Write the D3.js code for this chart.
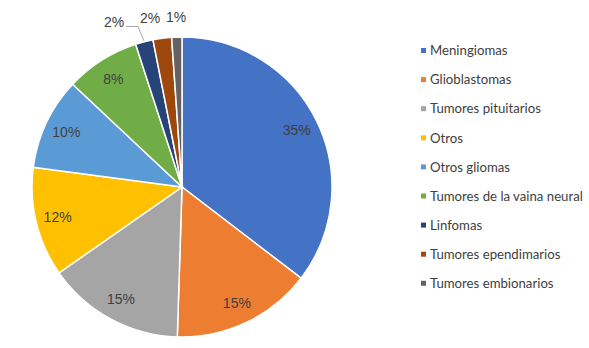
<!DOCTYPE html>
<html>
<head>
<meta charset="utf-8">
<script src="https://cdn.jsdelivr.net/npm/d3@7"></script>
<style>
  body { margin: 0; background: #fff; }
  .pct { font-family: "Liberation Sans", Arial, sans-serif; font-size: 14px; fill: #404040; }
  .legend-text { font-family: Lato, "Open Sans", sans-serif; font-size: 13.2px; fill: #404040; }
</style>
</head>
<body>
<div id="chart"></div>
<script>
const categories = ["Meningiomas", "Glioblastomas", "Tumores pituitarios", "Otros", "Otros gliomas",
  "Tumores de la vaina neural", "Linfomas", "Tumores ependimarios", "Tumores embionarios"];
const values = [35.4, 15.1, 14.8, 11.8, 9.9, 8.0, 1.9, 2.0, 1.1];
const colors = ["#4472C4", "#ED7D31", "#A5A5A5", "#FFC000", "#5B9BD5", "#70AD47", "#264478", "#9E480E", "#636363"];

const WIDTH = 589, HEIGHT = 348;
const CX = 182, CY = 187, R = 150;

const svg = d3.select("#chart")
    .append("svg")
        .attr("width", WIDTH)
        .attr("height", HEIGHT);

const data = categories.map((c, i) => ({ name: c, value: values[i], color: colors[i] }));
const total = d3.sum(values);

const pie = d3.pie().value(d => d.value).sort(null);
const arcs = pie(data);

const arc = d3.arc().innerRadius(0).outerRadius(R);
const labelArc = d3.arc().innerRadius(128).outerRadius(128);
const outArc = d3.arc().innerRadius(170).outerRadius(170);
const edgeArc = d3.arc().innerRadius(R + 1).outerRadius(R + 1);

const g = svg.append("g").attr("transform", `translate(${CX}, ${CY})`);

// slices
g.selectAll("path.slice")
    .data(arcs)
    .enter()
    .append("path")
        .attr("class", "slice")
        .attr("d", arc)
        .attr("fill", d => d.data.color)
        .attr("stroke", "#fff")
        .attr("stroke-width", 1.5);

// labels: big slices inside, small ones outside on top
const pct = d => Math.round(d.data.value / total * 100) + "%";
const inside = arcs.filter(d => d.data.value / total >= 0.05);
const outside = arcs.filter(d => d.data.value / total < 0.05);

g.selectAll("text.in")
    .data(inside)
    .enter()
    .append("text")
        .attr("class", "pct")
        .attr("transform", d => `translate(${labelArc.centroid(d)})`)
        .attr("text-anchor", "middle")
        .attr("dy", "0.35em")
        .text(pct);

// push outside labels leftwards so they don't overlap
const placed = outside.map(d => {
    const p = outArc.centroid(d);
    return { d: d, x: p[0], y: p[1], ax: p[0] };
});
for (let i = placed.length - 2; i >= 0; i--) {
    const limit = placed[i + 1].x - 26;
    if (placed[i].x > limit) placed[i].x = limit;
    if (placed[i].ax - placed[i].x > 12) {
        placed[i].x -= 10;
        placed[i].leader = true;
    }
}

placed.filter(p => p.leader).forEach(p => {
    const e = edgeArc.centroid(p.d);
    g.append("polyline")
        .attr("points", [[p.x + 12, p.y + 4], [e[0] - 6, p.y + 4], e].join(" "))
        .attr("fill", "none")
        .attr("stroke", "#a6a6a6")
        .attr("stroke-width", 1);
});

g.selectAll("text.out")
    .data(placed)
    .enter()
    .append("text")
        .attr("class", "pct")
        .attr("x", p => p.x)
        .attr("y", p => p.y)
        .attr("text-anchor", "middle")
        .attr("dy", "0.35em")
        .text(p => pct(p.d));

// legend
const ly = d3.scaleLinear().domain([0, categories.length - 1]).range([50.5, 283.3]);
const legend = svg.append("g")
    .selectAll("g")
    .data(data)
    .enter()
    .append("g")
        .attr("transform", (d, i) => `translate(421, ${ly(i)})`);

legend.append("rect")
    .attr("x", 0)
    .attr("y", -2.5)
    .attr("width", 5)
    .attr("height", 5)
    .attr("fill", d => d.color);

legend.append("text")
    .attr("class", "legend-text")
    .attr("x", 9)
    .attr("dy", "0.36em")
    .text(d => d.name);
</script>
</body>
</html>
